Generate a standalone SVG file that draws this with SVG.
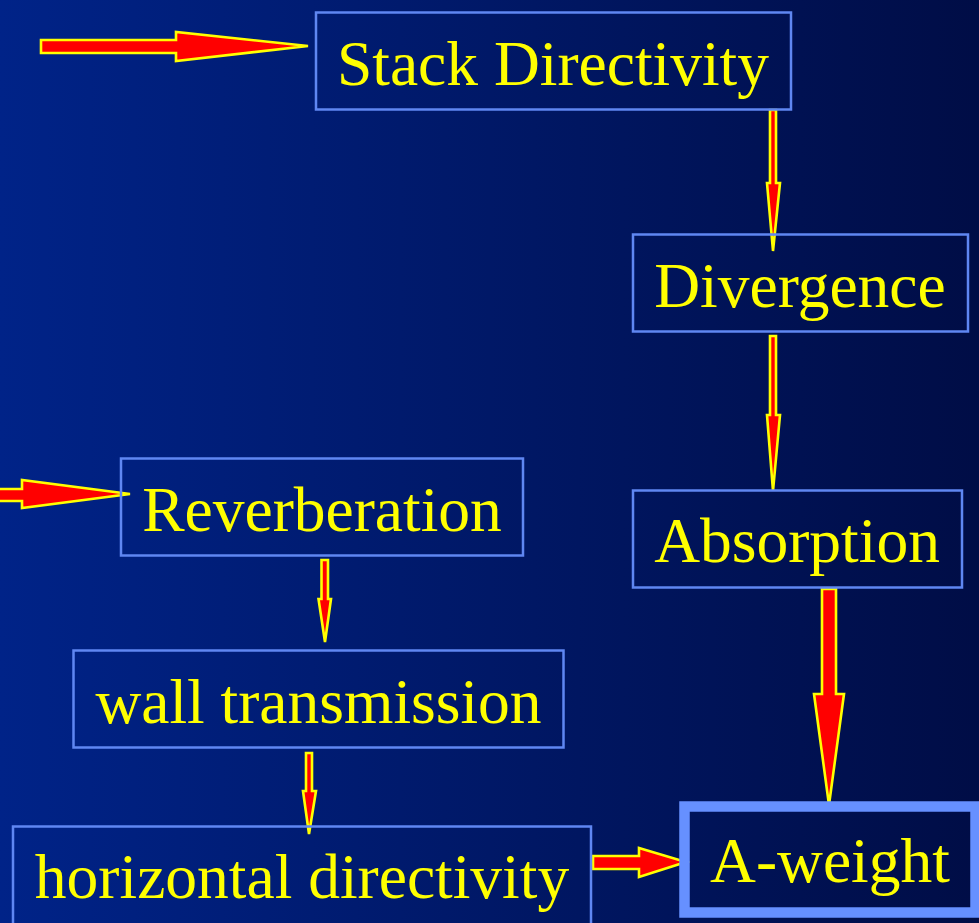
<svg xmlns="http://www.w3.org/2000/svg" width="979" height="923" viewBox="0 0 979 923">
<defs>
<linearGradient id="bg" x1="0" y1="0" x2="1" y2="0">
<stop offset="0" stop-color="#002388"/>
<stop offset="1" stop-color="#000d46"/>
</linearGradient>
<style>
.box{fill:none;stroke:#5f87f2;stroke-width:2.5}
.thick{fill:none;stroke:#6690ff;stroke-width:10.5}
.lbl{font-family:"Liberation Serif","Times New Roman",serif;font-size:63.5px;fill:#ffff00;text-anchor:middle}
.arr{fill:#ff0000;stroke:#ffff00;stroke-width:2.6;stroke-linejoin:miter}
</style>
</defs>
<rect x="0" y="0" width="979" height="923" fill="url(#bg)"/>
<g id="connectors">
<polygon class="arr" points="41,40 176,40 176,32 308,46 176,61 176,53 41,53"/>
<polygon class="arr" points="-5,489 22,489 22,480 130,494 22,508 22,501 -5,501"/>
<polygon class="arr" points="770,110 776,110 776,183 780,183 773,251 767,183 770,183"/>
<polygon class="arr" points="770,336 776,336 776,415 780,415 773,491 767,415 770,415"/>
<polygon class="arr" points="822,589 836,589 836,694 844,694 829,805 814,694 822,694"/>
<polygon class="arr" points="321.5,560 328,560 328,599 331,599 325,642 318.5,599 321.5,599"/>
<polygon class="arr" points="306,753 312,753 312,791 316,791 309,834 303,791 306,791"/>
<polygon class="arr" points="593,856 639,856 639,848 686,862 639,877 639,869 593,869"/>
</g>
<g id="stack">
<rect class="box" x="316" y="12.5" width="475" height="97"/>
<text class="lbl" x="553" y="85">Stack Directivity</text>
</g>
<g id="divergence">
<rect class="box" x="633" y="234.5" width="335" height="97"/>
<text class="lbl" x="800" y="307">Divergence</text>
</g>
<g id="absorption">
<rect class="box" x="633" y="490.5" width="329" height="97"/>
<text class="lbl" x="797" y="562">Absorption</text>
</g>
<g id="reverberation">
<rect class="box" x="121" y="458.5" width="402" height="97"/>
<text class="lbl" x="322" y="531">Reverberation</text>
</g>
<g id="wall">
<rect class="box" x="73.5" y="650.5" width="490" height="97"/>
<text class="lbl" x="318.5" y="723">wall transmission</text>
</g>
<g id="horizontal">
<rect class="box" x="13" y="826.5" width="578" height="120"/>
<text class="lbl" x="302" y="898">horizontal directivity</text>
</g>
<g id="aweight">
<rect class="thick" x="684.5" y="806.5" width="291" height="106"/>
<text class="lbl" x="830" y="882">A-weight</text>
</g>
</svg>
